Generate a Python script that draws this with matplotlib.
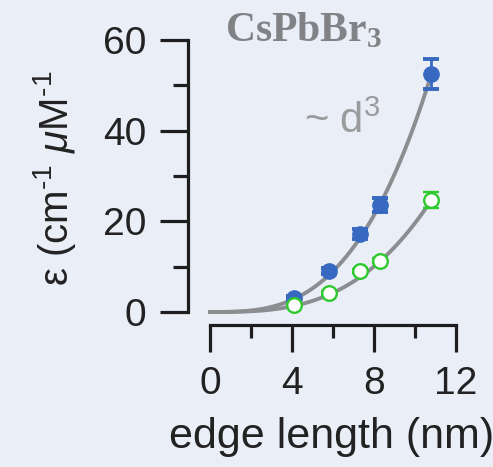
import matplotlib
matplotlib.use("Agg")
import numpy as np
import matplotlib.pyplot as plt

# edge length (nm) and extinction coefficients
edge = [4.1, 5.8, 7.3, 8.3, 10.8]
eps_blue = [3.1, 9.0, 17.2, 23.6, 52.5]
err_blue = [0.5, 0.6, 1.0, 1.5, 3.2]
eps_green = [1.5, 4.2, 9.0, 11.3, 24.7]
err_green = [0.3, 0.4, 0.5, 0.6, 1.8]

xticks = [0, 4, 8, 12]
yticks = [0, 20, 40, 60]

bg = "#e9eef7"
blue = "#3769c0"
green = "#2ec92e"
curve = "#8c8d90"
ink = "#222222"

plt.rcParams['font.family'] = ['Liberation Sans', 'DejaVu Sans']
plt.rcParams['mathtext.fontset'] = 'custom'
plt.rcParams['mathtext.rm'] = 'Liberation Sans'
plt.rcParams['mathtext.it'] = 'Liberation Sans:italic'
plt.rcParams['mathtext.bf'] = 'Liberation Serif:bold'

fig = plt.figure(figsize=(4.93, 4.67), dpi=100, facecolor=bg)
ax = fig.add_axes([210 / 493, 1 - 312 / 467, 246 / 493, 272 / 467])
ax.patch.set_alpha(0)

# cubic fits through the largest crystal
d = np.linspace(0, edge[-1], 200)
kb = eps_blue[-1] / edge[-1] ** 3
kg = eps_green[-1] / edge[-1] ** 3
ax.plot(d, kb * d ** 3, color=curve, lw=2.8, zorder=1, clip_on=False)
ax.plot(d, kg * d ** 3, color=curve, lw=2.8, zorder=1, clip_on=False)

ax.errorbar(edge, eps_blue, yerr=err_blue, fmt='o', ms=11, color=blue,
            mec=blue, elinewidth=2, capsize=5.5, capthick=2.8, zorder=3,
            clip_on=False)
ax.errorbar(edge, eps_green, yerr=err_green, fmt='o', ms=10.5, color=green,
            mfc='white', mec=green, mew=1.7, elinewidth=2, capsize=5.5,
            capthick=2.8, zorder=3, clip_on=False)

ax.set_xlim(0, 12)
ax.set_ylim(0, 60)
ax.set_xticks(xticks)
ax.set_yticks(yticks)
ax.set_xticks([2, 6, 10], minor=True)
ax.set_yticks([10, 30, 50], minor=True)

for s in ['top', 'right']:
    ax.spines[s].set_visible(False)
ax.spines['left'].set_position(('outward', 16))
ax.spines['bottom'].set_position(('outward', 9.5))
for s in ['left', 'bottom']:
    ax.spines[s].set_linewidth(2.3)
    ax.spines[s].set_color('#1e1e1e')

ax.tick_params(axis='both', which='major', width=2.3, color='#1e1e1e',
               labelsize=28, labelcolor=ink)
ax.tick_params(axis='both', which='minor', width=2.3, color='#1e1e1e')
ax.tick_params(axis='y', which='major', length=20, pad=10)
ax.tick_params(axis='y', which='minor', length=11)
ax.tick_params(axis='x', which='major', length=19.5, pad=10)
ax.tick_params(axis='x', which='minor', length=9.5)

ax.set_xlabel('edge length (nm)', fontsize=31, color=ink)
ax.xaxis.set_label_coords(0.495, -0.385)
ax.set_ylabel(r'ε (cm$^{\text{-}1}$ $\mu$M$^{\text{-}1}$', fontsize=29,
              color=ink)
ax.yaxis.set_label_coords(-0.535, 0.49)

ax.text(4.6, 39.5, r'~ d$^3$', fontsize=30, color='#9a9b9e')
fig.text(0.615, 0.935, r'CsPbBr$_\mathbf{3}$', fontsize=30, fontweight='bold',
         family='Liberation Serif', color='#808285', ha='center', va='center')

fig.savefig('out.png', dpi=100, facecolor=bg)
